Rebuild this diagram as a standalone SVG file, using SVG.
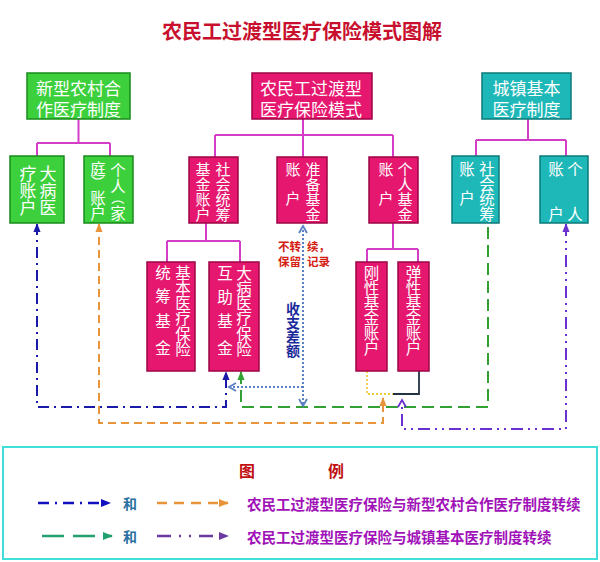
<svg xmlns="http://www.w3.org/2000/svg" width="600" height="562" viewBox="0 0 600 562">
<style>
text{font-family:"Noto Sans CJK SC","Noto Sans",sans-serif;}
.title{font-size:20px;font-weight:bold;fill:#c8102e;}
.pink{fill:#e6176f;stroke:#9c0645;stroke-width:1.5;}
.green{fill:#3cd03c;stroke:#1a8a1a;stroke-width:1.5;}
.teal{fill:#1fb8b8;stroke:#0c7a7a;stroke-width:1.5;}
.bt{fill:#ffffff;font-size:17px;text-anchor:middle;dominant-baseline:central;}
.vt{fill:#ffffff;font-size:15.5px;text-anchor:middle;dominant-baseline:central;}
.vs{fill:#ffffff;font-size:15px;text-anchor:middle;dominant-baseline:central;}
.vp{fill:#ffffff;font-size:13px;text-anchor:middle;dominant-baseline:central;}
.tree{fill:none;stroke:#d43ec6;stroke-width:2;}
.red{fill:#d42010;font-size:11.5px;font-weight:bold;dominant-baseline:central;}
.diff{fill:#1a2a9a;font-size:14px;font-weight:bold;text-anchor:middle;dominant-baseline:central;}
.lg{fill:#a012b8;font-size:14.5px;font-weight:bold;dominant-baseline:central;}
.he{fill:#2a70a0;font-size:14px;font-weight:bold;text-anchor:middle;dominant-baseline:central;}
.lh{fill:#c01010;font-size:16px;font-weight:bold;text-anchor:middle;dominant-baseline:central;}
</style>
<defs>
<marker id="aBlue" viewBox="0 0 10 10" refX="9" refY="5" markerWidth="9" markerHeight="9" markerUnits="userSpaceOnUse" orient="auto-start-reverse"><path d="M0,1 L10,5 L0,9 z" fill="#1a1aa8"/></marker>
<marker id="aOrange" viewBox="0 0 10 10" refX="9" refY="5" markerWidth="9" markerHeight="9" markerUnits="userSpaceOnUse" orient="auto-start-reverse"><path d="M0,1 L10,5 L0,9 z" fill="#e8943a"/></marker>
<marker id="aGreen" viewBox="0 0 10 10" refX="9" refY="5" markerWidth="9" markerHeight="9" markerUnits="userSpaceOnUse" orient="auto-start-reverse"><path d="M0,1 L10,5 L0,9 z" fill="#33a033"/></marker>
<marker id="aPurple" viewBox="0 0 10 10" refX="9" refY="5" markerWidth="9" markerHeight="9" markerUnits="userSpaceOnUse" orient="auto-start-reverse"><path d="M0,1 L10,5 L0,9 z" fill="#6a30d0"/></marker>
<marker id="cPurple" viewBox="0 0 10 10" refX="8" refY="5" markerWidth="10" markerHeight="10" markerUnits="userSpaceOnUse" orient="auto-start-reverse"><path d="M1,1 L8,5 L1,9" fill="none" stroke="#6a30d0" stroke-width="1.8"/></marker>
<marker id="cBlue" viewBox="0 0 10 10" refX="8" refY="5" markerWidth="10" markerHeight="10" markerUnits="userSpaceOnUse" orient="auto-start-reverse"><path d="M1,1 L8,5 L1,9" fill="none" stroke="#5a80c4" stroke-width="1.8"/></marker>
<marker id="lBlue" viewBox="0 0 10 10" refX="9" refY="5" markerWidth="10" markerHeight="10" markerUnits="userSpaceOnUse" orient="auto"><path d="M0,1 L10,5 L0,9 z" fill="#1010c0"/></marker>
<marker id="lOrange" viewBox="0 0 10 10" refX="9" refY="5" markerWidth="10" markerHeight="10" markerUnits="userSpaceOnUse" orient="auto"><path d="M0,1 L10,5 L0,9 z" fill="#e8943a"/></marker>
<marker id="lGreen" viewBox="0 0 10 10" refX="9" refY="5" markerWidth="10" markerHeight="10" markerUnits="userSpaceOnUse" orient="auto"><path d="M0,1 L10,5 L0,9 z" fill="#22a070"/></marker>
<marker id="lPurple" viewBox="0 0 10 10" refX="9" refY="5" markerWidth="10" markerHeight="10" markerUnits="userSpaceOnUse" orient="auto"><path d="M0,1 L10,5 L0,9 z" fill="#6a3aa0"/></marker>
</defs>
<rect width="600" height="562" fill="#ffffff"/>
<text class="title" x="302" y="30" text-anchor="middle" dominant-baseline="central">农民工过渡型医疗保险模式图解</text>

<g id="connectors">
  <path class="tree" d="M78.5,119 V143 M37,143 H110 M37,143 V156 M110,143 V156"/>
  <path class="tree" d="M303,119 V157 M215,135 H393 M215,135 V157 M393,135 V157"/>
  <path class="tree" d="M528,119 V140 M476,140 H566 M476,140 V156 M566,140 V156"/>
  <path class="tree" d="M206,223 V241 M167,241 H240 M167,241 V262 M240,241 V262"/>
  <path class="tree" d="M393,223 V249 M367,249 H418 M367,249 V262 M418,249 V262"/>
  <path d="M37,224 V407 H226 V372" fill="none" stroke="#1a1aa8" stroke-width="2" stroke-dasharray="11 5 2 5" marker-start="url(#aBlue)" marker-end="url(#aBlue)"/>
  <path d="M99,224 V423 H383 V398" fill="none" stroke="#e8943a" stroke-width="2" stroke-dasharray="8 5" marker-start="url(#aOrange)" marker-end="url(#aOrange)"/>
  <path d="M241,372 V407 H488 V223" fill="none" stroke="#33a033" stroke-width="2" stroke-dasharray="12 6" marker-start="url(#aGreen)"/>
  <path d="M566,224 V429 H402 V400" fill="none" stroke="#6a30d0" stroke-width="2" stroke-dasharray="12 5 2 5 2 5" marker-start="url(#aPurple)" marker-end="url(#cPurple)"/>
  <path d="M303,226 V406" fill="none" stroke="#5a80c4" stroke-width="2" stroke-dasharray="2 2" marker-start="url(#cBlue)" marker-end="url(#cBlue)"/>
  <path d="M303,387 H229" fill="none" stroke="#5a80c4" stroke-width="2" stroke-dasharray="2 2" marker-end="url(#cBlue)"/>
  <path d="M367,371 V394 H393" fill="none" stroke="#f0cc40" stroke-width="1.8" stroke-dasharray="2 2"/>
  <path d="M419,371 V394 H393" fill="none" stroke="#223344" stroke-width="1.8"/>
</g>

<g id="n-ncms">
  <rect class="green" x="27" y="73" width="103" height="46"/>
  <text class="bt" x="78.5" y="87">新型农村合</text>
  <text class="bt" x="78.5" y="108">作医疗制度</text>
</g>
<g id="n-ncms-serious">
  <rect class="green" x="10" y="156" width="54" height="67"/>
  <text class="bt"><tspan x="48" y="172">大</tspan><tspan x="48" y="189">病</tspan><tspan x="48" y="206">医</tspan><tspan x="28" y="172">疗</tspan><tspan x="28" y="189">账</tspan><tspan x="28" y="206">户</tspan></text>
</g>
<g id="n-ncms-personal">
  <rect class="green" x="84" y="156" width="49" height="67"/>
  <text class="vt"><tspan x="118" y="169">个</tspan><tspan x="118" y="185">人</tspan><tspan x="118" y="212">家</tspan><tspan x="98" y="168">庭</tspan><tspan x="98" y="197">账</tspan><tspan x="98" y="212">户</tspan></text>
  <text class="vp" transform="rotate(90 118 198)" x="118" y="198">（</text>
  <text class="vp" transform="rotate(90 98 182)" x="98" y="182">）</text>
</g>

<g id="n-transit">
  <rect class="pink" x="252" y="73" width="120" height="46"/>
  <text class="bt" x="311" y="87">农民工过渡型</text>
  <text class="bt" x="311" y="108">医疗保险模式</text>
</g>
<g id="n-social-fund">
  <rect class="pink" x="189" y="157" width="49" height="66"/>
  <text class="vs"><tspan x="223" y="168">社</tspan><tspan x="223" y="183">会</tspan><tspan x="223" y="198">统</tspan><tspan x="223" y="213">筹</tspan><tspan x="203" y="168">基</tspan><tspan x="203" y="183">金</tspan><tspan x="203" y="198">账</tspan><tspan x="203" y="213">户</tspan></text>
</g>
<g id="n-reserve">
  <rect class="pink" x="277" y="157" width="50" height="66"/>
  <text class="vs"><tspan x="313" y="168">准</tspan><tspan x="313" y="183">备</tspan><tspan x="313" y="198">基</tspan><tspan x="313" y="213">金</tspan><tspan x="293" y="168">账</tspan><tspan x="293" y="197">户</tspan></text>
</g>
<g id="n-personal-fund">
  <rect class="pink" x="369" y="157" width="49" height="66"/>
  <text class="vs"><tspan x="405" y="168">个</tspan><tspan x="405" y="183">人</tspan><tspan x="405" y="198">基</tspan><tspan x="405" y="213">金</tspan><tspan x="386" y="168">账</tspan><tspan x="386" y="197">户</tspan></text>
</g>
<g id="n-basic-pool">
  <rect class="pink" x="147" y="262" width="48" height="109"/>
  <text class="vt"><tspan x="183" y="272">基</tspan><tspan x="183" y="287">本</tspan><tspan x="183" y="302">医</tspan><tspan x="183" y="317">疗</tspan><tspan x="183" y="333">保</tspan><tspan x="183" y="348">险</tspan><tspan x="163" y="272">统</tspan><tspan x="163" y="295">筹</tspan><tspan x="163" y="320">基</tspan><tspan x="163" y="347">金</tspan></text>
</g>
<g id="n-serious-mutual">
  <rect class="pink" x="209" y="262" width="50" height="109"/>
  <text class="vt"><tspan x="244" y="272">大</tspan><tspan x="244" y="287">病</tspan><tspan x="244" y="302">医</tspan><tspan x="244" y="317">疗</tspan><tspan x="244" y="333">保</tspan><tspan x="244" y="348">险</tspan><tspan x="225" y="272">互</tspan><tspan x="225" y="296">助</tspan><tspan x="225" y="320">基</tspan><tspan x="225" y="347">金</tspan></text>
</g>
<g id="n-rigid">
  <rect class="pink" x="356" y="262" width="31" height="109"/>
  <text class="vt"><tspan x="371.5" y="272">刚</tspan><tspan x="371.5" y="287">性</tspan><tspan x="371.5" y="302">基</tspan><tspan x="371.5" y="317">金</tspan><tspan x="371.5" y="332">账</tspan><tspan x="371.5" y="347">户</tspan></text>
</g>
<g id="n-flexible">
  <rect class="pink" x="398" y="262" width="31" height="109"/>
  <text class="vt"><tspan x="413.5" y="272">弹</tspan><tspan x="413.5" y="287">性</tspan><tspan x="413.5" y="302">基</tspan><tspan x="413.5" y="317">金</tspan><tspan x="413.5" y="332">账</tspan><tspan x="413.5" y="347">户</tspan></text>
</g>

<g id="n-urban">
  <rect class="teal" x="482" y="73" width="89" height="46"/>
  <text class="bt" x="526.5" y="87">城镇基本</text>
  <text class="bt" x="526.5" y="108">医疗制度</text>
</g>
<g id="n-urban-social">
  <rect class="teal" x="452" y="156" width="47" height="67"/>
  <text class="vt"><tspan x="487" y="168">社</tspan><tspan x="487" y="183">会</tspan><tspan x="487" y="198">统</tspan><tspan x="487" y="213">筹</tspan><tspan x="467" y="168">账</tspan><tspan x="467" y="197">户</tspan></text>
</g>
<g id="n-urban-personal">
  <rect class="teal" x="540" y="156" width="48" height="67"/>
  <text class="vt"><tspan x="575" y="168">个</tspan><tspan x="575" y="213">人</tspan><tspan x="556" y="168">账</tspan><tspan x="556" y="213">户</tspan></text>
</g>

<g id="labels">
  <text class="red"><tspan x="278" y="246">不转</tspan><tspan x="307" y="246">续，</tspan><tspan x="278" y="261">保留</tspan><tspan x="307" y="261">记录</tspan></text>
  <text class="diff"><tspan x="293" y="308">收</tspan><tspan x="293" y="322">支</tspan><tspan x="293" y="336">差</tspan><tspan x="293" y="350">额</tspan></text>
</g>

<g id="legend">
  <rect x="3" y="447" width="594" height="112" fill="#ffffff" stroke="#40e0d8" stroke-width="2"/>
  <text class="lh" x="247" y="470">图</text>
  <text class="lh" x="336" y="470">例</text>
  <path d="M38,503 H110" fill="none" stroke="#1010c0" stroke-width="2.5" stroke-dasharray="11 6 2 6" marker-end="url(#lBlue)"/>
  <text class="he" x="130" y="503">和</text>
  <path d="M157,503 H228" fill="none" stroke="#e8943a" stroke-width="2.5" stroke-dasharray="10 7" marker-end="url(#lOrange)"/>
  <text class="lg" x="247" y="503">农民工过渡型医疗保险与新型农村合作医疗制度转续</text>
  <path d="M42,536 H112" fill="none" stroke="#22a070" stroke-width="2.5" stroke-dasharray="22 9" marker-end="url(#lGreen)"/>
  <text class="he" x="130" y="536">和</text>
  <path d="M157,536 H228" fill="none" stroke="#6a3aa0" stroke-width="2.5" stroke-dasharray="14 8 2 8 2 8" marker-end="url(#lPurple)"/>
  <text class="lg" x="247" y="536">农民工过渡型医疗保险与城镇基本医疗制度转续</text>
</g>
</svg>
